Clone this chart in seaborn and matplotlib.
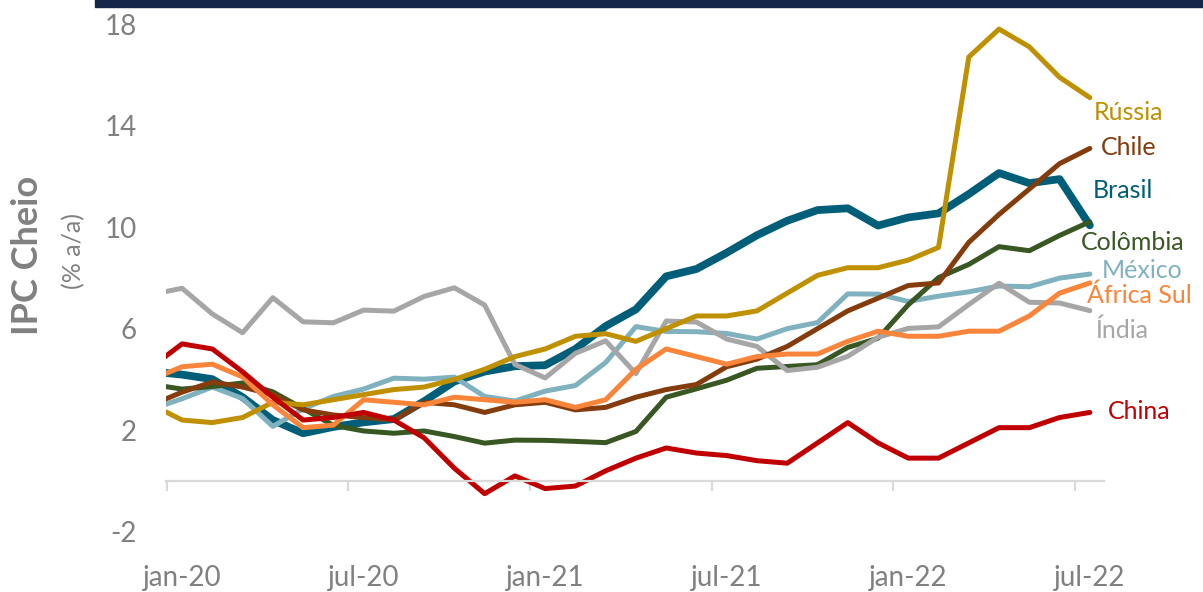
import pandas as pd
import seaborn as sns
import matplotlib.pyplot as plt
from matplotlib.patches import Rectangle

# monthly CPI y/y, dec-19 .. jul-22
months = pd.period_range("2019-12", "2022-07", freq="M").strftime("%b-%y").tolist()

brasil = [4.31, 4.19, 4.01, 3.30, 2.40, 1.88, 2.13, 2.31, 2.44, 3.14, 3.92, 4.31, 4.52,
          4.56, 5.20, 6.10, 6.76, 8.06, 8.35, 8.99, 9.68, 10.25, 10.67, 10.74, 10.06,
          10.38, 10.54, 11.30, 12.13, 11.73, 11.89, 10.07]
mexico = [2.83, 3.24, 3.70, 3.25, 2.15, 2.84, 3.33, 3.62, 4.05, 4.01, 4.09, 3.33, 3.15,
          3.54, 3.76, 4.67, 6.08, 5.89, 5.88, 5.81, 5.59, 6.00, 6.24, 7.37, 7.36,
          7.07, 7.28, 7.45, 7.68, 7.65, 7.99, 8.15]
colombia = [3.80, 3.62, 3.72, 3.86, 3.51, 2.85, 2.19, 1.97, 1.88, 1.97, 1.75, 1.49, 1.61,
            1.60, 1.56, 1.51, 1.95, 3.30, 3.63, 3.97, 4.44, 4.51, 4.58, 5.26, 5.62,
            6.94, 8.01, 8.53, 9.23, 9.07, 9.67, 10.21]
india = [7.35, 7.59, 6.58, 5.84, 7.22, 6.27, 6.23, 6.73, 6.69, 7.27, 7.61, 6.93, 4.59,
         4.06, 5.03, 5.52, 4.23, 6.30, 6.26, 5.59, 5.30, 4.35, 4.48, 4.91, 5.66,
         6.01, 6.07, 6.95, 7.79, 7.04, 7.01, 6.71]
chile = [3.0, 3.5, 3.9, 3.7, 3.4, 2.8, 2.6, 2.5, 2.4, 3.1, 3.0, 2.7, 3.0,
         3.1, 2.8, 2.9, 3.3, 3.6, 3.8, 4.5, 4.8, 5.3, 6.0, 6.7, 7.2,
         7.7, 7.8, 9.4, 10.5, 11.5, 12.5, 13.1]
russia = [3.0, 2.4, 2.3, 2.5, 3.1, 3.0, 3.2, 3.4, 3.6, 3.7, 4.0, 4.4, 4.9,
          5.2, 5.7, 5.8, 5.5, 6.0, 6.5, 6.5, 6.7, 7.4, 8.1, 8.4, 8.4,
          8.7, 9.2, 16.7, 17.8, 17.1, 15.9, 15.1]
africa_sul = [4.0, 4.5, 4.6, 4.1, 3.0, 2.1, 2.2, 3.2, 3.1, 3.0, 3.3, 3.2, 3.1,
              3.2, 2.9, 3.2, 4.4, 5.2, 4.9, 4.6, 4.9, 5.0, 5.0, 5.5, 5.9,
              5.7, 5.7, 5.9, 5.9, 6.5, 7.4, 7.8]
china = [4.5, 5.4, 5.2, 4.3, 3.3, 2.4, 2.5, 2.7, 2.4, 1.7, 0.5, -0.5, 0.2,
         -0.3, -0.2, 0.4, 0.9, 1.3, 1.1, 1.0, 0.8, 0.7, 1.5, 2.3, 1.5,
         0.9, 0.9, 1.5, 2.1, 2.1, 2.5, 2.7]

tick_labels = ["jan-20", "jul-20", "jan-21", "jul-21", "jan-22", "jul-22"]
yticks = [-2, 2, 6, 10, 14, 18]

series = {"Brasil": brasil, "México": mexico, "Colômbia": colombia, "Índia": india,
          "Chile": chile, "Rússia": russia, "África Sul": africa_sul, "China": china}
colors = {"Brasil": "#015E78", "México": "#80B1BF", "Colômbia": "#385723",
          "Índia": "#A6A6A6", "Chile": "#843C0C", "Rússia": "#BF9000",
          "África Sul": "#F8853A", "China": "#C00000"}
# label anchor (x index, y value)
label_pos = {"Rússia": (30.12, 14.53), "Chile": (30.35, 13.15), "Brasil": (30.08, 11.45),
             "Colômbia": (29.69, 9.41), "México": (30.41, 8.31), "África Sul": (29.92, 7.32),
             "Índia": (30.18, 5.94), "China": (30.58, 2.72)}

df = pd.DataFrame(series)
df["t"] = range(-1, len(months) - 1)  # jan-20 = 0

sns.set_style("white")
plt.rcParams["font.family"] = ["Lato", "DejaVu Sans"]
plt.rcParams["axes.unicode_minus"] = False

fig = plt.figure(figsize=(12.03, 5.92), dpi=100)
ax = fig.add_axes([0.138, 0.0546, 0.780, 0.922])

for name in series:
    lw = 5.6 if name == "Brasil" else 3.6
    sns.lineplot(data=df, x="t", y=name, color=colors[name], linewidth=lw, ax=ax,
                 solid_capstyle="round")
    lx, ly = label_pos[name]
    ax.text(lx, ly, name, color=colors[name], fontsize=18, ha="left", va="center")

ax.set_xlim(-0.53, 30.48)
ax.set_ylim(-3.1, 18.4)
ax.set_xlabel("")
ax.set_ylabel("")

# horizontal axis crosses at 0, labels stay at the bottom
for s in ["top", "right", "left"]:
    ax.spines[s].set_visible(False)
ax.spines["bottom"].set_position(("data", 0))
ax.spines["bottom"].set_color("#D9D9D9")
ax.spines["bottom"].set_linewidth(1.6)
ax.set_xticks([-0.5 + 6 * i for i in range(len(tick_labels))])
ax.tick_params(axis="x", bottom=True, direction="out", length=7, width=1.6,
               color="#D9D9D9", labelbottom=False)

sec = ax.secondary_xaxis("bottom")
sec.set_xticks([6 * i for i in range(len(tick_labels))], tick_labels)
sec.tick_params(length=0, labelsize=20, labelcolor="#808080", pad=4)
sec.spines["bottom"].set_visible(False)

ax.set_yticks(yticks)
ax.tick_params(axis="y", length=0, labelsize=20, labelcolor="#808080", pad=21)

fig.text(0.023, 0.568, "IPC Cheio", rotation=90, fontsize=26, fontweight="bold",
         color="#808080", ha="center", va="center")
fig.text(0.061, 0.576, "(% a/a)", rotation=90, fontsize=18, color="#808080",
         ha="center", va="center")

# dark header strip at the top edge
fig.patches.append(Rectangle((0.079, 0.988), 0.93, 0.02, transform=fig.transFigure,
                             color="#16264A", zorder=0))

fig.savefig("out.png", dpi=100)
